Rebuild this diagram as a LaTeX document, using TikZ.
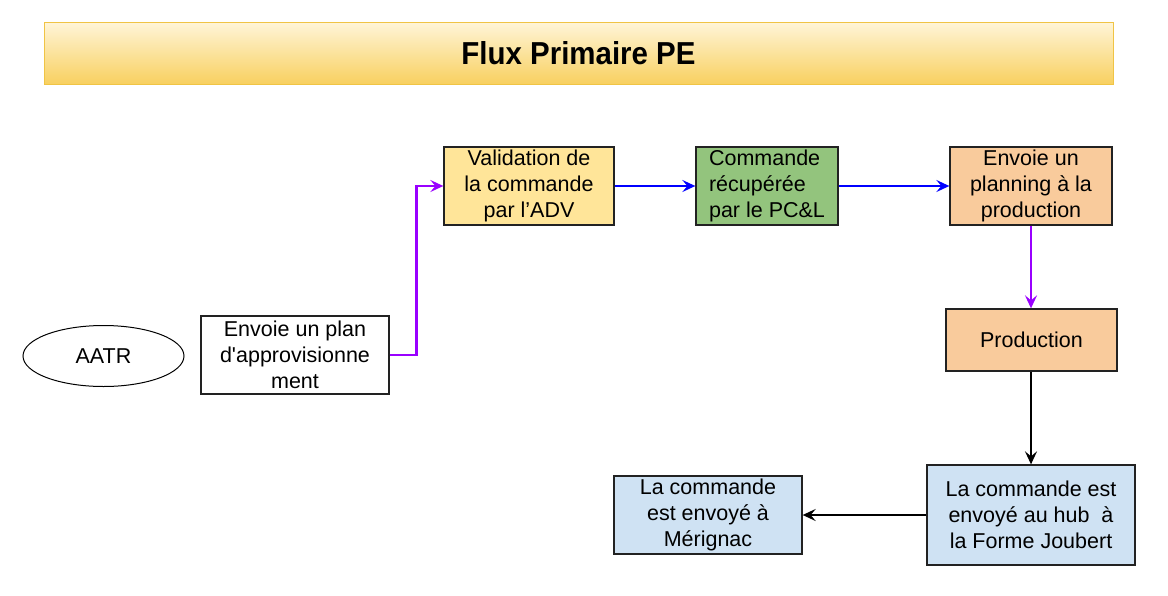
\documentclass[tikz,border=0pt]{standalone}
\usepackage{fontspec}
\usepackage{graphicx}
\setmainfont{Liberation Sans}[Ligatures=TeXOff]
\usetikzlibrary{arrows.meta,shapes.geometric}
\definecolor{titletop}{HTML}{FFF5D8}
\definecolor{titlebot}{HTML}{F8D060}
\definecolor{titleline}{HTML}{F0C445}
\definecolor{validfill}{HTML}{FFE599}
\definecolor{cmdfill}{HTML}{93C47D}
\definecolor{peach}{HTML}{F9CB9C}
\definecolor{lightblue}{HTML}{CFE2F3}
\definecolor{purp}{HTML}{9900FF}
\definecolor{blu}{HTML}{0000FF}
\definecolor{boxline}{HTML}{222222}
\tikzset{
  box/.style={draw=boxline, line width=1.3pt, inner sep=0pt, align=center,
    font=\fontsize{21.5}{26}\selectfont},
  conn/.style={line width=2.4pt, -{Stealth[length=13pt,width=12pt,inset=5pt]}},
  purpconn/.style={conn, draw=purp},
  bluconn/.style={conn, draw=blu},
  blkconn/.style={conn, draw=black},
}
\begin{document}
\begin{tikzpicture}[x=1pt,y=-1pt]
\useasboundingbox (0,0) rectangle (1168,595);
\node[draw=titleline, line width=1pt, top color=titletop, bottom color=titlebot,
  minimum width=1069pt, minimum height=62pt, inner sep=0pt] (title) at (578.5,53)
  {\resizebox{234pt}{23pt}{\bfseries Flux Primaire PE}};
\node[ellipse, draw=black, line width=1pt, minimum width=161pt, minimum height=61pt,
  inner sep=0pt, font=\fontsize{21.5}{26}\selectfont] (aatr) at (103.5,356) {AATR};
\node[box, fill=white, minimum width=188pt, minimum height=78pt] (plan) at (295,355)
  {Envoie un plan\\d'approvisionne\\ment};
\node[box, fill=validfill, minimum width=170pt, minimum height=78pt] (valid) at (529,186)
  {Validation de\\la commande\\par l’ADV};
\node[box, fill=cmdfill, align=left, minimum width=142pt,
  minimum height=78pt] (cmd) at (767,186)
  {Commande\\récupérée\\par le PC\&L};
\node[box, fill=peach, minimum width=162pt, minimum height=78pt] (plann) at (1031,186)
  {Envoie un\\planning à la\\production};
\node[box, fill=peach, minimum width=171pt, minimum height=62pt] (prod) at (1031.5,340)
  {Production};
\node[box, fill=lightblue, minimum width=208pt, minimum height=100pt] (hub) at (1031,515)
  {La commande est\\envoyé au hub\ \ à\\la Forme Joubert};
\node[box, fill=lightblue, minimum width=188pt, minimum height=78pt] (merig) at (708,515)
  {La commande\\est envoyé à\\Mérignac};
\draw[purpconn] (plan.east) -- ++(27,0) |- (valid.west);
\draw[bluconn] (valid.east) -- (cmd.west);
\draw[bluconn] (cmd.east) -- (plann.west);
\draw[purpconn] (plann.south) -- (plann.south |- prod.north);
\draw[blkconn] (prod.south -| plann.south) -- (hub.north -| plann.south);
\draw[blkconn] (hub.west) -- (merig.east);
\end{tikzpicture}
\end{document}
